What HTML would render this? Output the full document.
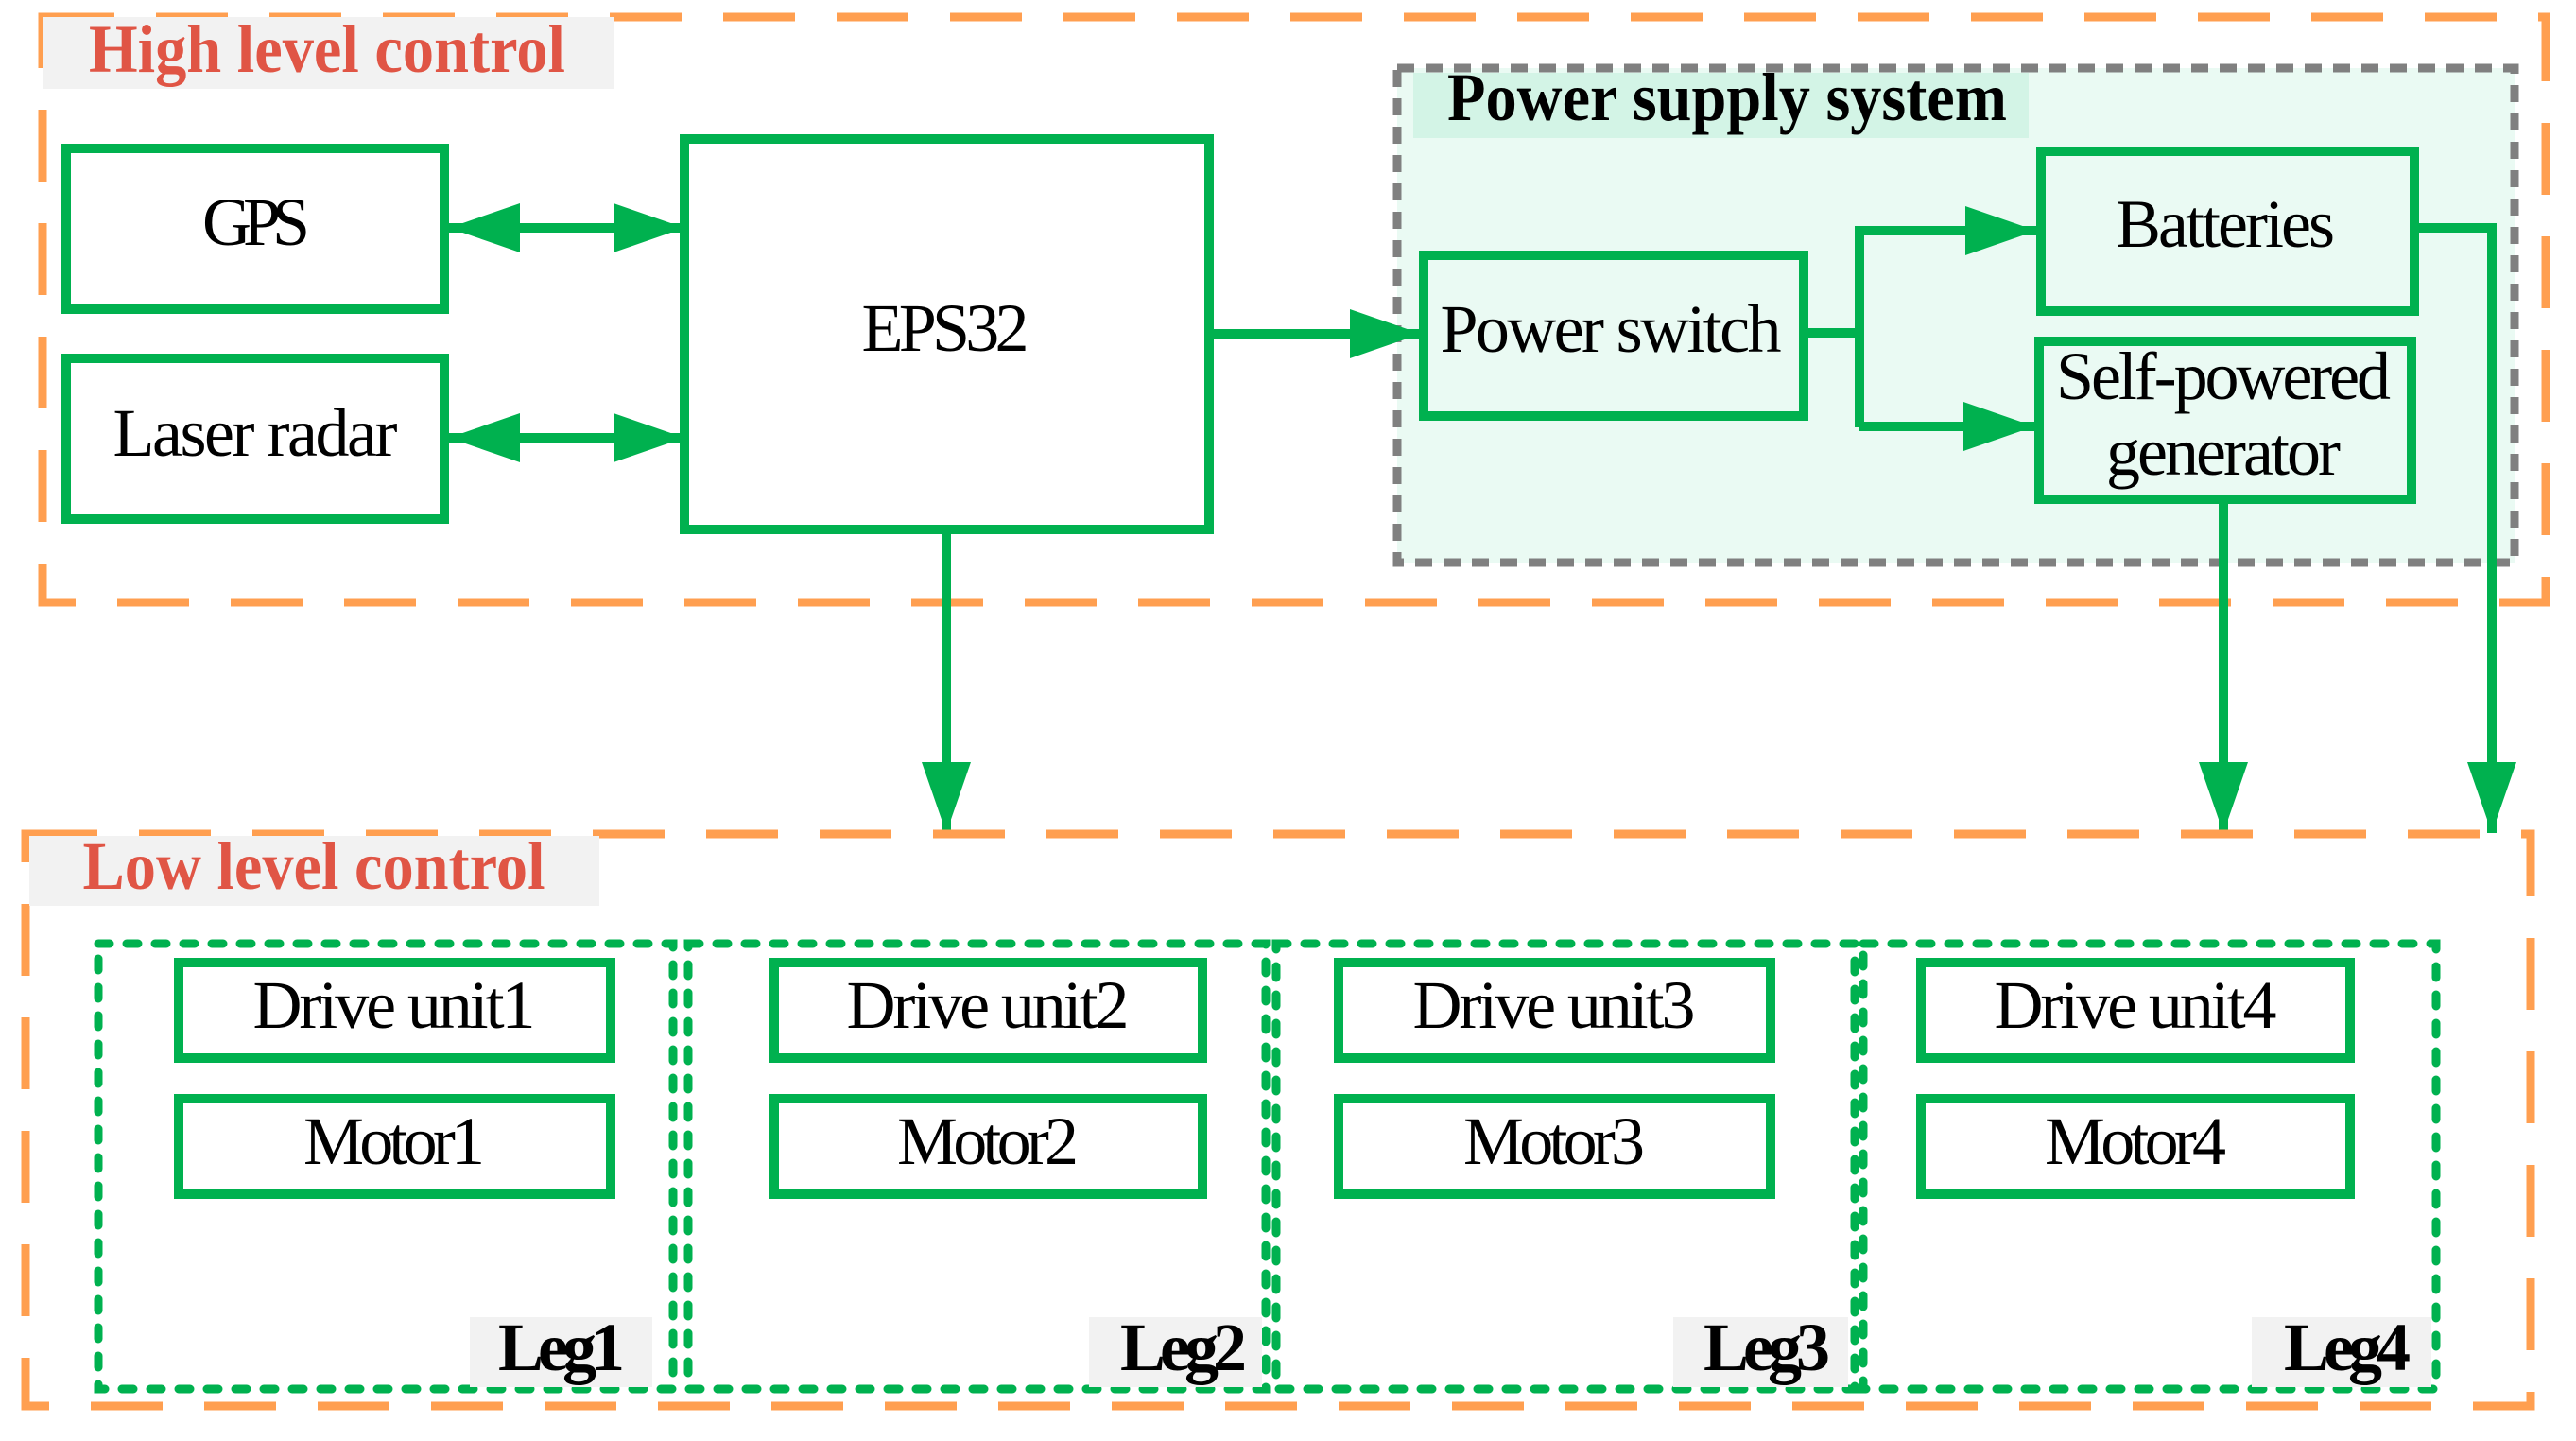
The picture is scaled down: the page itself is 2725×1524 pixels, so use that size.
<!DOCTYPE html>
<html><head><meta charset="utf-8"><style>html,body{margin:0;padding:0;background:#fff}svg{display:block}</style></head>
<body>
<svg width="2725" height="1524" viewBox="0 0 2725 1524" xmlns="http://www.w3.org/2000/svg" font-family="Liberation Serif, serif">
<defs>
<marker id="ah" viewBox="0 0 75 52" refX="75" refY="26" markerWidth="75" markerHeight="52" markerUnits="userSpaceOnUse" orient="auto-start-reverse">
<path d="M0,0 L75,26 L0,52 Z" fill="#00b14f"/></marker>
</defs>
<rect x="45" y="18" width="2648" height="619" fill="none" stroke="#ff9f50" stroke-width="9" stroke-dasharray="76 44"/>
<rect x="45" y="18" width="604" height="76" fill="#f2f2f2"/>
<text x="346" y="76" font-size="72" font-weight="bold" fill="#e05545" text-anchor="middle" textLength="504" lengthAdjust="spacingAndGlyphs">High level control</text>
<rect x="1478" y="72" width="1182" height="523" fill="#eafaf3" stroke="#808080" stroke-width="9" stroke-dasharray="18 12"/>
<rect x="1495" y="77" width="651" height="69" fill="#d3f4e6"/>
<text x="1827" y="127" font-size="72" font-weight="bold" fill="#000" text-anchor="middle" textLength="592" lengthAdjust="spacingAndGlyphs">Power supply system</text>
<g fill="#fff" stroke="#00b14f" stroke-width="10">
<rect x="70" y="157" width="400" height="170"/>
<rect x="70" y="379" width="400" height="170"/>
<rect x="724" y="147" width="555" height="413"/>
</g>
<g fill="#eafaf3" stroke="#00b14f" stroke-width="10">
<rect x="1506" y="270" width="402" height="170"/>
<rect x="2159" y="160" width="395" height="169"/>
<rect x="2157" y="361" width="394" height="167"/>
</g>
<g font-size="72" fill="#000" text-anchor="middle" lengthAdjust="spacingAndGlyphs">
<text x="271" y="259" textLength="114">GPS</text>
<text x="270" y="482" textLength="301">Laser radar</text>
<text x="1000" y="371" textLength="177">EPS32</text>
<text x="1704" y="372" textLength="361">Power switch</text>
<text x="2354" y="261" textLength="232">Batteries</text>
<text x="2352" y="422" textLength="354">Self-powered</text>
<text x="2352" y="502" textLength="248">generator</text>
</g>
<g stroke="#00b14f" stroke-width="10" fill="none">
<line x1="475" y1="241" x2="724" y2="241" marker-start="url(#ah)" marker-end="url(#ah)"/>
<line x1="475" y1="463" x2="724" y2="463" marker-start="url(#ah)" marker-end="url(#ah)"/>
<line x1="1284" y1="353" x2="1503" y2="353" marker-end="url(#ah)"/>
<polyline points="1908,352 1967,352"/>
<polyline points="1967,452 1967,244 2154,244" marker-end="url(#ah)"/>
<polyline points="1967,451 2152,451" marker-end="url(#ah)"/>
<line x1="1001" y1="560" x2="1001" y2="881" marker-end="url(#ah)"/>
<line x1="2352" y1="528" x2="2352" y2="881" marker-end="url(#ah)"/>
<polyline points="2554,241 2636,241 2636,881" marker-end="url(#ah)"/>
</g>
<rect x="27" y="882" width="2650" height="605" fill="none" stroke="#ff9f50" stroke-width="9" stroke-dasharray="76 44"/>
<rect x="31" y="884" width="603" height="74" fill="#f2f2f2"/>
<text x="332" y="940" font-size="72" font-weight="bold" fill="#e05545" text-anchor="middle" textLength="489" lengthAdjust="spacingAndGlyphs">Low level control</text>
<g fill="none" stroke="#00b14f" stroke-width="9" stroke-dasharray="12 18" stroke-linecap="round">
<rect x="104" y="998" width="608" height="471"/>
<rect x="728" y="998" width="611" height="471"/>
<rect x="1350" y="998" width="612" height="471"/>
<rect x="1971" y="998" width="606" height="471"/>
</g>
<g fill="#f2f2f2">
<rect x="497" y="1393" width="193" height="74"/>
<rect x="1152" y="1393" width="183" height="74"/>
<rect x="1770" y="1393" width="185" height="74"/>
<rect x="2382" y="1393" width="190" height="74"/>
</g>
<g fill="#fff" stroke="#00b14f" stroke-width="10">
<rect x="189" y="1018" width="457" height="101"/><rect x="189" y="1162" width="457" height="101"/>
<rect x="819" y="1018" width="453" height="101"/><rect x="819" y="1162" width="453" height="101"/>
<rect x="1416" y="1018" width="457" height="101"/><rect x="1416" y="1162" width="457" height="101"/>
<rect x="2032" y="1018" width="454" height="101"/><rect x="2032" y="1162" width="454" height="101"/>
</g>
<g font-size="72" fill="#000" text-anchor="middle" lengthAdjust="spacingAndGlyphs">
<text x="417" y="1087" textLength="299">Drive unit1</text><text x="417" y="1231" textLength="192">Motor1</text>
<text x="1045" y="1087" textLength="299">Drive unit2</text><text x="1045" y="1231" textLength="192">Motor2</text>
<text x="1644" y="1087" textLength="299">Drive unit3</text><text x="1644" y="1231" textLength="192">Motor3</text>
<text x="2259" y="1087" textLength="299">Drive unit4</text><text x="2259" y="1231" textLength="192">Motor4</text>
</g>
<g font-size="72" font-weight="bold" fill="#000" text-anchor="middle" lengthAdjust="spacingAndGlyphs">
<text x="594" y="1449" textLength="134">Leg1</text>
<text x="1252" y="1449" textLength="134">Leg2</text>
<text x="1869" y="1449" textLength="134">Leg3</text>
<text x="2483" y="1449" textLength="134">Leg4</text>
</g>
</svg>
</body></html>
